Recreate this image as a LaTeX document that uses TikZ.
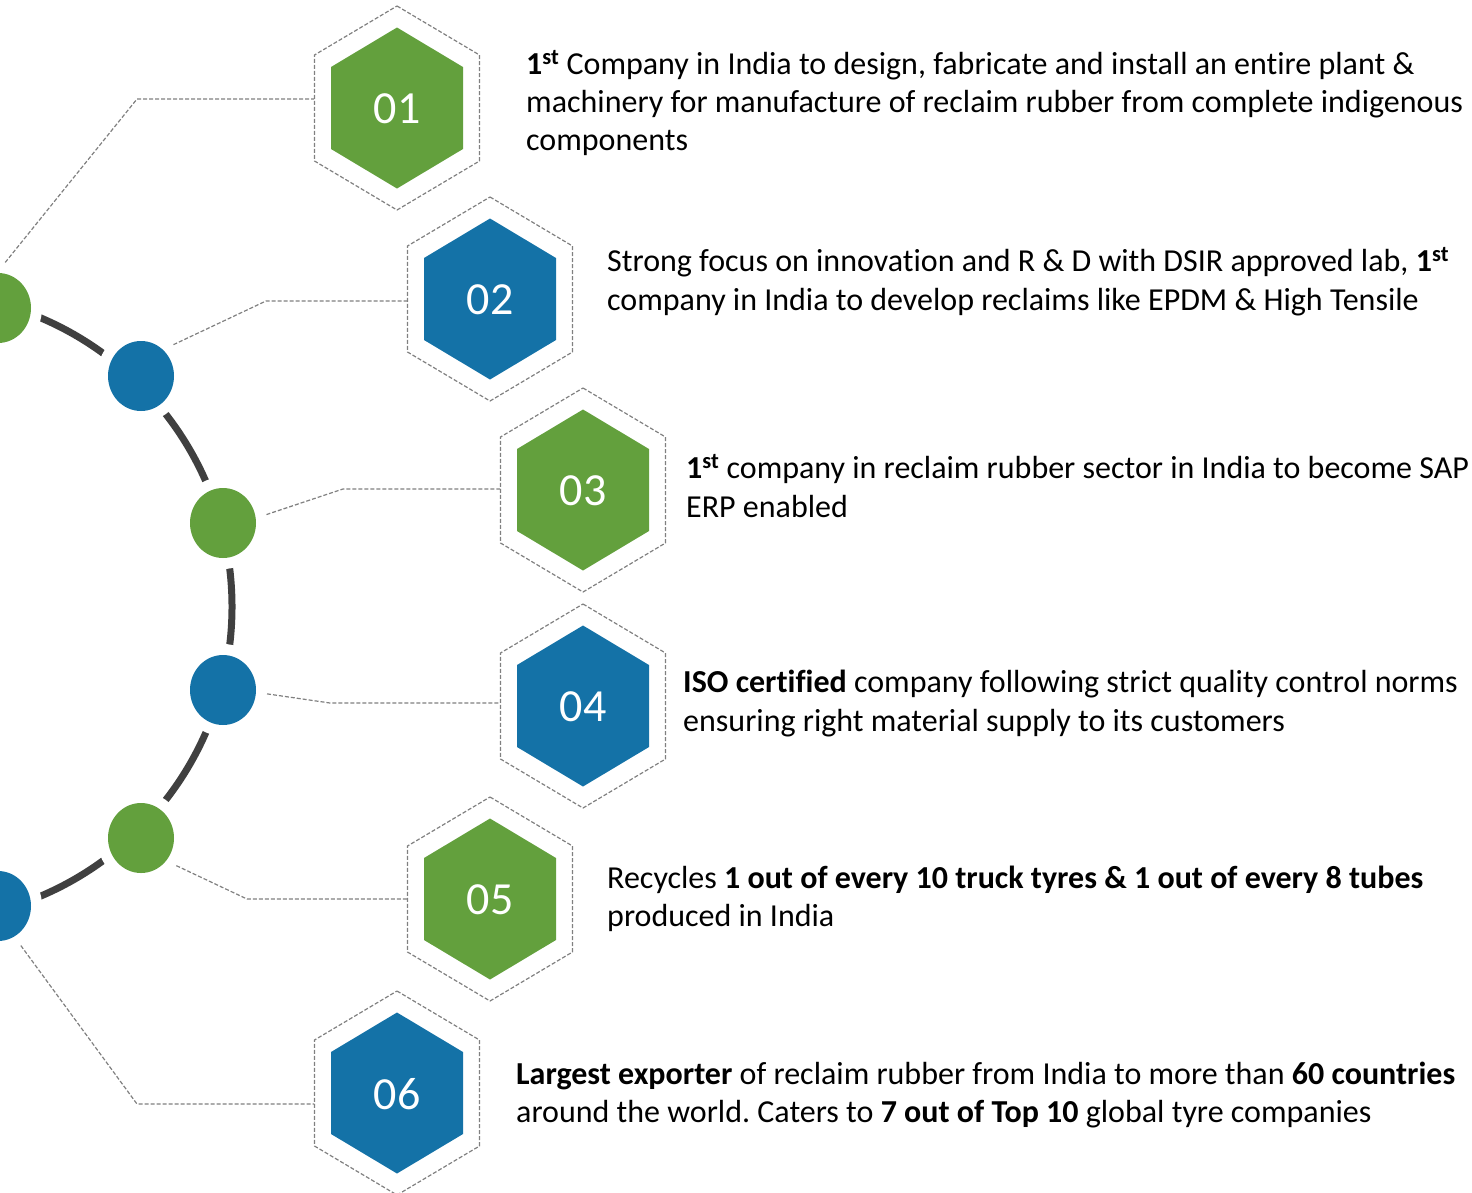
\documentclass[tikz,border=0pt]{standalone}
\usepackage{fontspec}
\setmainfont{Carlito}[Ligatures={NoCommon}]
\frenchspacing
\usetikzlibrary{shapes.geometric}
\definecolor{hgreen}{RGB}{99,160,61}
\definecolor{hblue}{RGB}{20,114,167}
\definecolor{arcgray}{RGB}{64,64,64}
\definecolor{linegray}{RGB}{128,128,128}
\tikzset{
  arcline/.style={draw=arcgray,line width=7pt},
  conn/.style={draw=linegray,line width=1.2pt,dash pattern=on 4pt off 2pt},
  hexline/.style={draw=linegray,line width=1.2pt,dash pattern=on 4pt off 2pt},
  ring/.style={ellipse,fill=white,minimum width=88pt,minimum height=92pt,inner sep=0pt},
  dot/.style={ellipse,minimum width=66pt,minimum height=70pt,inner sep=0pt},
  hexnum/.style={text=white,inner sep=0pt,font=\fontsize{46}{50}\selectfont},
  txt/.style={anchor=base west,inner sep=0pt,font=\fontsize{32}{38}\selectfont}
}
\newcommand\hexbox[5]{%
  \draw[hexline] (#2,#3) ++(0,-102) -- ++(82.5,49) -- ++(0,106) -- ++(-82.5,49)
     -- ++(-82.5,-49) -- ++(0,-106) -- cycle;
  \fill[#4] (#2,#3) ++(0,-80.5) -- ++(66,39.5) -- ++(0,82) -- ++(-66,39.5)
     -- ++(-66,-39.5) -- ++(0,-82) -- cycle;
  \node[hexnum] (#1) at (#2,#3+1) {#5};
  \coordinate (#1w) at (#2-83,#3);
}
\begin{document}
\begin{tikzpicture}[x=1pt,y=-1pt]
\useasboundingbox (0,0) rectangle (1472,1192);
\clip (0,0) rectangle (1472,1192);

% hexagons
\hexbox{h1}{397}{108}{hgreen}{01}
\hexbox{h2}{490}{299}{hblue}{02}
\hexbox{h3}{583}{490}{hgreen}{03}
\hexbox{h4}{583}{706}{hblue}{04}
\hexbox{h5}{490}{899}{hgreen}{05}
\hexbox{h6}{397}{1093}{hblue}{06}

% arc
\draw[arcline] (-82,607) ++(-86:314) arc[start angle=-86,end angle=86,radius=314];

% circles
\node[ring] (c1) at (-2,308) {};
\node[ring] (c2) at (141,376) {};
\node[ring] (c3) at (223,523) {};
\node[ring] (c4) at (223,690) {};
\node[ring] (c5) at (141,838) {};
\node[ring] (c6) at (-2,906) {};
\node[dot,fill=hgreen] (d1) at (c1) {};
\node[dot,fill=hblue] (d2) at (c2) {};
\node[dot,fill=hgreen] (d3) at (c3) {};
\node[dot,fill=hblue] (d4) at (c4) {};
\node[dot,fill=hgreen] (d5) at (c5) {};
\node[dot,fill=hblue] (d6) at (c6) {};

% connectors
\coordinate (k1) at (137,99);
\coordinate (k2) at (266,301);
\coordinate (k3) at (343,489);
\coordinate (k4) at (330,703);
\coordinate (k5) at (247,899);
\coordinate (k6) at (137,1104);
\draw[conn] (c1.81) -- (k1) -- (k1 -| h1w);
\draw[conn] (c2.44) -- (k2) -- (k2 -| h2w);
\draw[conn] (c3.11) -- (k3) -- (k3 -| h3w);
\draw[conn] (c4.-5) -- (k4) -- (k4 -| h4w);
\draw[conn] (c5.-38) -- (k5) -- (k5 -| h5w);
\draw[conn] (c6.-60) -- (k6) -- (k6 -| h6w);

% texts
\node[txt] (t1a) at (526,74) {\textbf{1\textsuperscript{st}} Company in India to design, fabricate and install an entire plant \&};
\node[txt] (t1b) at (526,112) {machinery for manufacture of reclaim rubber from complete indigenous};
\node[txt] (t1c) at (526,150) {components};

\node[txt] (t2a) at (607,271) {Strong focus on innovation and R \& D with DSIR approved lab, \textbf{1\textsuperscript{st}}};
\node[txt] (t2b) at (607,310) {company in India to develop reclaims like EPDM \& High Tensile};

\node[txt] (t3a) at (686,478) {\textbf{1\textsuperscript{st}} company in reclaim rubber sector in India to become SAP};
\node[txt] (t3b) at (686,517) {ERP enabled};

\node[txt] (t4a) at (683,692) {\textbf{ISO certified} company following strict quality control norms};
\node[txt] (t4b) at (683,731) {ensuring right material supply to its customers};

\node[txt] (t5a) at (607,888) {Recycles \textbf{1 out of every 10 truck tyres \& 1 out of every 8 tubes}};
\node[txt] (t5b) at (607,926) {produced in India};

\node[txt] (t6a) at (516,1084) {\textbf{Largest exporter} of reclaim rubber from India to more than \textbf{60 countries}};
\node[txt] (t6b) at (516,1122) {around the world. Caters to \textbf{7 out of Top 10} global tyre companies};
\end{tikzpicture}
\end{document}
